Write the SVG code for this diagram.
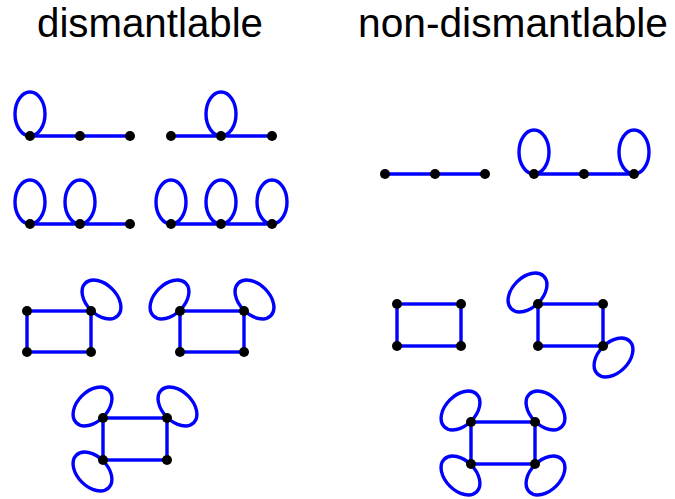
<svg xmlns="http://www.w3.org/2000/svg" width="675" height="499" viewBox="0 0 675 499">
<style>
.e{stroke:#0000ff;stroke-width:3.4;fill:none;stroke-linecap:round}
.v{fill:#000}
.t{font-family:"Liberation Sans",Arial,sans-serif;font-size:40px;fill:#000}
</style>
<defs>
<ellipse id="up" cx="0" cy="-22" rx="15" ry="22" class="e"/>
<ellipse id="tilt" cx="0" cy="0" rx="23" ry="15" class="e"/>
<circle id="dot" r="5" class="v"/>
</defs>
<rect width="675" height="499" fill="#fff"/>
<text class="t" x="37" y="37" textLength="226" lengthAdjust="spacingAndGlyphs">dismantlable</text>
<text class="t" x="358" y="37" textLength="310" lengthAdjust="spacingAndGlyphs">non-dismantlable</text>
<g id="connectors">
<line class="e" x1="30" y1="136" x2="130" y2="136"/>
<use href="#up" x="30" y="136"/>
<line class="e" x1="171" y1="136" x2="272" y2="136"/>
<use href="#up" x="221" y="136"/>
<line class="e" x1="30" y1="224" x2="130" y2="224"/>
<use href="#up" x="30" y="224"/>
<use href="#up" x="80" y="224"/>
<line class="e" x1="171" y1="224" x2="272" y2="224"/>
<use href="#up" x="171" y="224"/>
<use href="#up" x="221" y="224"/>
<use href="#up" x="272" y="224"/>
<line class="e" x1="385" y1="174" x2="485" y2="174"/>
<line class="e" x1="534" y1="174" x2="634" y2="174"/>
<use href="#up" x="534" y="174"/>
<use href="#up" x="634" y="174"/>
<rect class="e" x="27" y="311" width="64" height="41"/>
<use href="#tilt" transform="translate(101.5 299.5) rotate(45)"/>
<rect class="e" x="180" y="311" width="64" height="41"/>
<use href="#tilt" transform="translate(169.5 299.5) rotate(-45)"/>
<use href="#tilt" transform="translate(254.5 299.5) rotate(45)"/>
<rect class="e" x="103" y="418" width="64" height="42"/>
<use href="#tilt" transform="translate(92.5 406.5) rotate(-45)"/>
<use href="#tilt" transform="translate(177.5 406.5) rotate(45)"/>
<use href="#tilt" transform="translate(92.5 471.5) rotate(45)"/>
<rect class="e" x="397" y="304" width="64" height="42"/>
<rect class="e" x="538" y="304" width="65" height="42"/>
<use href="#tilt" transform="translate(527.5 292.5) rotate(-45)"/>
<use href="#tilt" transform="translate(613.5 357.5) rotate(-45)"/>
<rect class="e" x="471" y="422" width="64" height="42"/>
<use href="#tilt" transform="translate(460.5 410.5) rotate(-45)"/>
<use href="#tilt" transform="translate(545.5 410.5) rotate(45)"/>
<use href="#tilt" transform="translate(460.5 475.5) rotate(45)"/>
<use href="#tilt" transform="translate(545.5 475.5) rotate(-45)"/>
</g>
<g id="d1-v1"><use href="#dot" x="30" y="136"/></g>
<g id="d1-v2"><use href="#dot" x="80" y="136"/></g>
<g id="d1-v3"><use href="#dot" x="130" y="136"/></g>
<g id="d2-v1"><use href="#dot" x="171" y="136"/></g>
<g id="d2-v2"><use href="#dot" x="221" y="136"/></g>
<g id="d2-v3"><use href="#dot" x="272" y="136"/></g>
<g id="d3-v1"><use href="#dot" x="30" y="224"/></g>
<g id="d3-v2"><use href="#dot" x="80" y="224"/></g>
<g id="d3-v3"><use href="#dot" x="130" y="224"/></g>
<g id="d4-v1"><use href="#dot" x="171" y="224"/></g>
<g id="d4-v2"><use href="#dot" x="221" y="224"/></g>
<g id="d4-v3"><use href="#dot" x="272" y="224"/></g>
<g id="n1-v1"><use href="#dot" x="385" y="174"/></g>
<g id="n1-v2"><use href="#dot" x="435" y="174"/></g>
<g id="n1-v3"><use href="#dot" x="485" y="174"/></g>
<g id="n2-v1"><use href="#dot" x="534" y="174"/></g>
<g id="n2-v2"><use href="#dot" x="584" y="174"/></g>
<g id="n2-v3"><use href="#dot" x="634" y="174"/></g>
<g id="d5-v1"><use href="#dot" x="27" y="311"/></g>
<g id="d5-v2"><use href="#dot" x="91" y="311"/></g>
<g id="d5-v3"><use href="#dot" x="27" y="352"/></g>
<g id="d5-v4"><use href="#dot" x="91" y="352"/></g>
<g id="d6-v1"><use href="#dot" x="180" y="311"/></g>
<g id="d6-v2"><use href="#dot" x="244" y="311"/></g>
<g id="d6-v3"><use href="#dot" x="180" y="352"/></g>
<g id="d6-v4"><use href="#dot" x="244" y="352"/></g>
<g id="d7-v1"><use href="#dot" x="103" y="418"/></g>
<g id="d7-v2"><use href="#dot" x="167" y="418"/></g>
<g id="d7-v3"><use href="#dot" x="103" y="460"/></g>
<g id="d7-v4"><use href="#dot" x="167" y="460"/></g>
<g id="n3-v1"><use href="#dot" x="397" y="304"/></g>
<g id="n3-v2"><use href="#dot" x="461" y="304"/></g>
<g id="n3-v3"><use href="#dot" x="397" y="346"/></g>
<g id="n3-v4"><use href="#dot" x="461" y="346"/></g>
<g id="n4-v1"><use href="#dot" x="538" y="304"/></g>
<g id="n4-v2"><use href="#dot" x="603" y="304"/></g>
<g id="n4-v3"><use href="#dot" x="538" y="346"/></g>
<g id="n4-v4"><use href="#dot" x="603" y="346"/></g>
<g id="n5-v1"><use href="#dot" x="471" y="422"/></g>
<g id="n5-v2"><use href="#dot" x="535" y="422"/></g>
<g id="n5-v3"><use href="#dot" x="471" y="464"/></g>
<g id="n5-v4"><use href="#dot" x="535" y="464"/></g>
</svg>
